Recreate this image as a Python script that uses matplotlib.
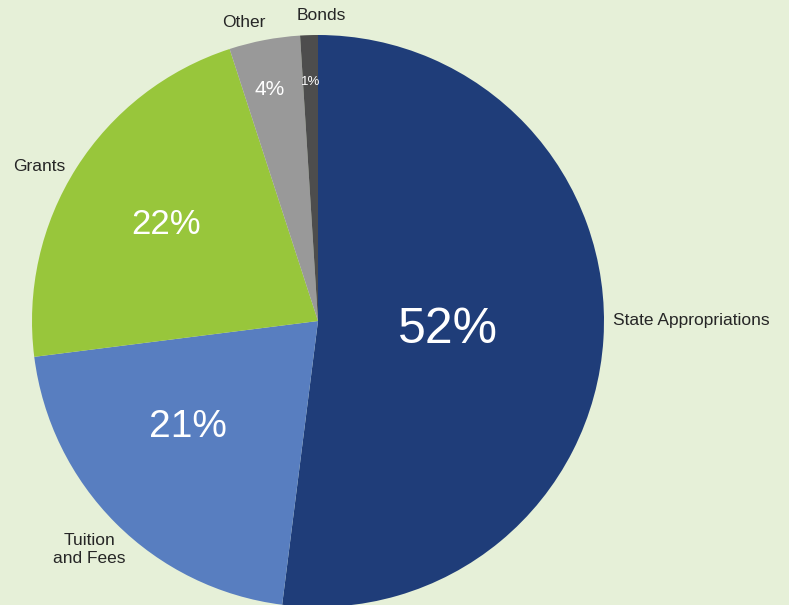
import numpy as np
import matplotlib
matplotlib.use("Agg")
import matplotlib.pyplot as plt

plt.rcParams["font.family"] = ["Liberation Sans", "DejaVu Sans"]

# revenue sources, clockwise from 12 o'clock
labels = ["State Appropriations", "Tuition\nand Fees", "Grants", "Other", "Bonds"]
shares = [52, 21, 22, 4, 1]
colors = ["#1f3d79", "#587ec0", "#98c63b", "#999999", "#4d4d4d"]
pct_sizes = [36, 28, 25, 15, 9.5]
pct_dist = [0.455, 0.587, 0.63, 0.826, 0.836]
pct_turn = [-0.5, -5.8, 0.0, 1.0, 0.0]
lab_dist = [1.03, 1.13, 1.035, 1.06, 1.07]
lab_turn = [3.6, 0.0, 1.0, -0.8, -2.5]
lab_ha = ["left", "center", "right", "right", "center"]

bg = "#e6f0d8"
W, H = 789, 605
fig = plt.figure(figsize=(W / 100, H / 100), dpi=100, facecolor=bg)
ax = fig.add_axes([0, 0, 1, 1])
ax.set_facecolor(bg)

cx, cy, R = 318, H - 321, 286
wedges, _ = ax.pie(shares, colors=colors, startangle=90, counterclock=False,
                   center=(cx, cy), radius=R, frame=True,
                   wedgeprops=dict(linewidth=0))
ax.set_xlim(0, W)
ax.set_ylim(0, H)
ax.set_axis_off()

for i, w in enumerate(wedges):
    mid = (w.theta1 + w.theta2) / 2
    a = np.deg2rad(mid + pct_turn[i])
    ax.text(cx + pct_dist[i] * R * np.cos(a), cy + pct_dist[i] * R * np.sin(a),
            f"{shares[i]}%", color="white", fontsize=pct_sizes[i],
            ha="center", va="center")
    b = np.deg2rad(mid + lab_turn[i])
    ax.text(cx + lab_dist[i] * R * np.cos(b), cy + lab_dist[i] * R * np.sin(b),
            labels[i], color="#262626", fontsize=12.5, ha=lab_ha[i],
            va="center", multialignment="center")

fig.savefig("out.png", dpi=100, facecolor=bg)
